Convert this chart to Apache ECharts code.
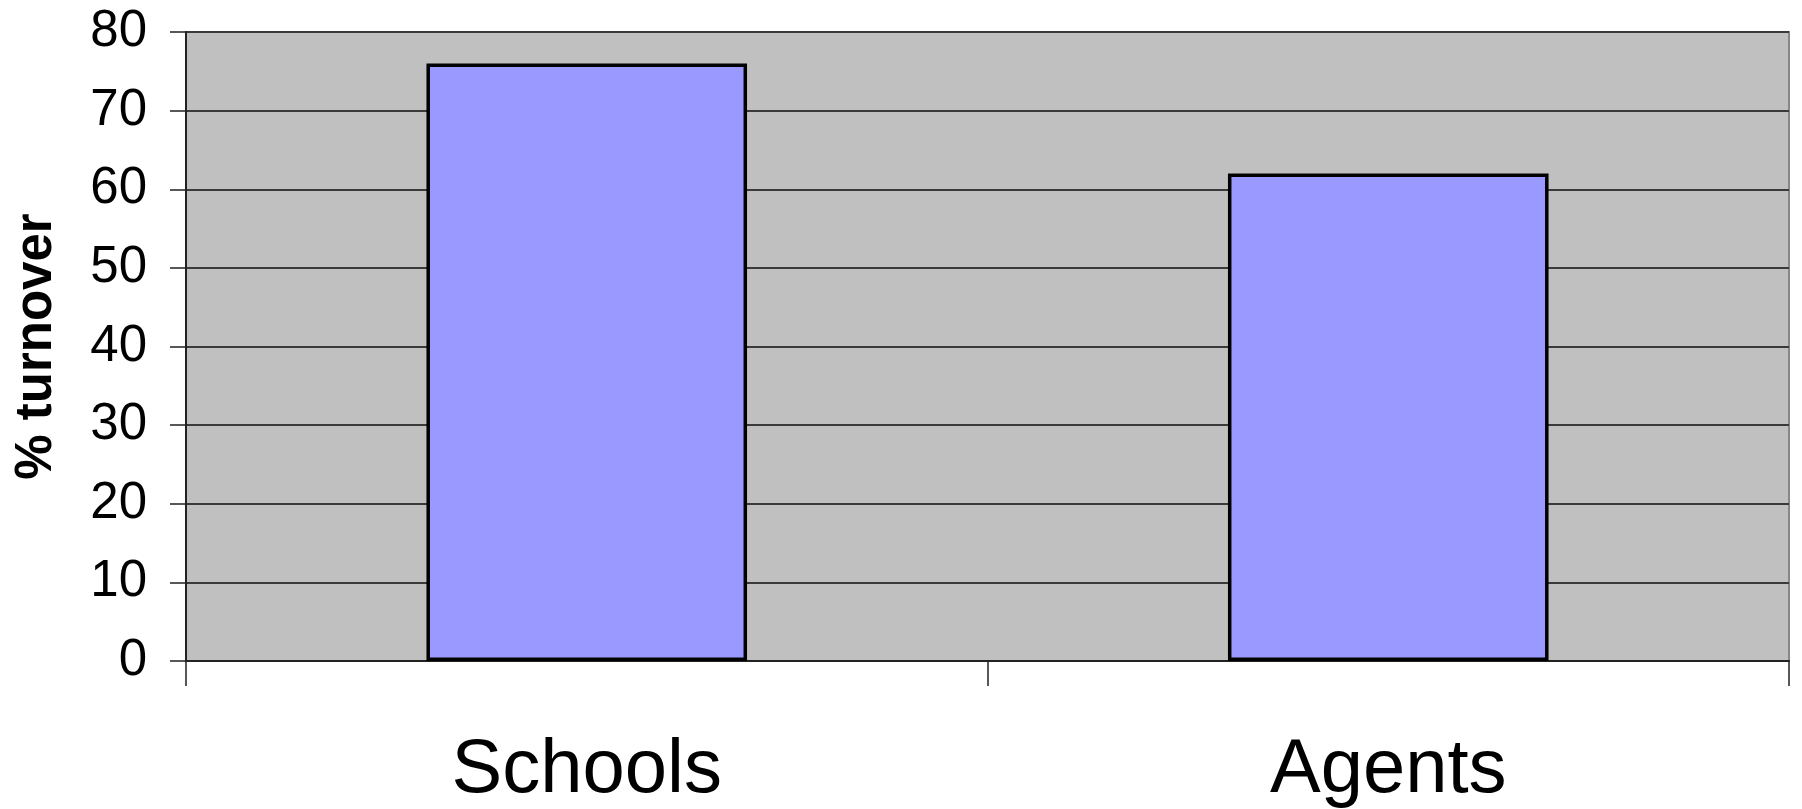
<!DOCTYPE html>
<html>
<head>
<meta charset="utf-8">
<script src="https://cdn.jsdelivr.net/npm/echarts@6/dist/echarts.min.js"></script>
<style>
html,body{margin:0;padding:0;background:#fff;}
#chart{width:1802px;height:809px;}
</style>
</head>
<body>
<div id="chart"></div>
<script>
var categories = ["Schools", "Agents"];
var turnover = [76, 62];
var yTicks = [0, 10, 20, 30, 40, 50, 60, 70, 80];

var chart = echarts.init(document.getElementById('chart'), null, {renderer: 'canvas'});
chart.setOption({
  animation: false,
  backgroundColor: '#ffffff',
  grid: {
    left: 186, right: 13, top: 32, bottom: 148,
    containLabel: false,
    outerBoundsMode: 'none',
    show: true,
    backgroundColor: '#C0C0C0',
    borderColor: '#888888',
    borderWidth: 2
  },
  xAxis: {
    type: 'category',
    data: categories,
    boundaryGap: true,
    axisLine: {show: true, lineStyle: {color: '#222222', width: 2}},
    axisTick: {show: true, alignWithLabel: false, length: 25, lineStyle: {color: '#222222', width: 1.5}},
    axisLabel: {
      margin: 72,
      color: '#000000',
      fontFamily: 'Liberation Sans, Arial, sans-serif',
      fontSize: 76
    },
    splitLine: {show: false}
  },
  yAxis: {
    type: 'value',
    min: yTicks[0],
    max: yTicks[yTicks.length - 1],
    interval: 10,
    name: '% turnover',
    nameLocation: 'middle',
    nameRotate: 90,
    nameGap: 124,
    nameTextStyle: {
      color: '#000000',
      fontFamily: 'Liberation Sans, Arial, sans-serif',
      fontWeight: 'bold',
      fontSize: 51
    },
    axisLine: {show: true, lineStyle: {color: '#222222', width: 2}},
    axisTick: {show: true, length: 16, lineStyle: {color: '#222222', width: 1.5}},
    axisLabel: {
      margin: 39,
      color: '#000000',
      fontFamily: 'Liberation Sans, Arial, sans-serif',
      fontSize: 51
    },
    splitLine: {show: true, lineStyle: {color: '#3a3a3a', width: 2}}
  },
  series: [{
    type: 'bar',
    data: turnover,
    barCategoryGap: '60%',
    itemStyle: {
      color: '#9999FF',
      borderColor: '#000000',
      borderWidth: 3.5
    }
  }]
});
</script>
</body>
</html>
